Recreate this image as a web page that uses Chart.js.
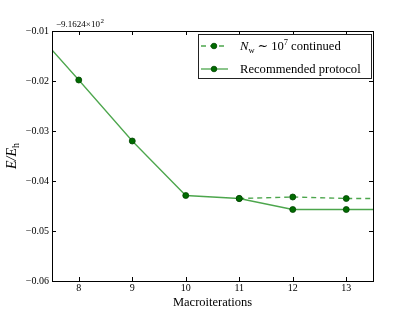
<!DOCTYPE html>
<html>
<head>
<meta charset="utf-8">
<script src="https://cdn.jsdelivr.net/npm/chart.js@4"></script>
<style>
  html, body { margin: 0; padding: 0; background: #fff; }
  #wrap { width: 415px; height: 312px; }
</style>
</head>
<body>
<div id="wrap"><canvas id="chart"></canvas></div>
<script>
// energies relative to offset -9.1624e2 (Eh)
const iterations = [7.5, 8, 9, 10, 11, 12, 13, 13.5];
const recommended = [-0.0138, -0.0198, -0.0320, -0.0429, -0.0435, -0.0457, -0.0457, -0.0457];
const continuedIters = [11, 12, 13, 13.5];
const continued = [-0.0435, -0.0432, -0.0435, -0.0435];
const xTicks = [8, 9, 10, 11, 12, 13];
const yTicks = [-0.06, -0.05, -0.04, -0.03, -0.02, -0.01];
const offsetLabel = ['−9.1624×10', '2'];

const SERIF = '"Liberation Serif", "DejaVu Serif", serif';
const LINE = 'rgba(0, 128, 0, 0.7)';
const MARK = '#006b00';
const MARK_EDGE = '#004400';

const pts = (xs, ys) => xs.map((x, i) => ({ x: x, y: ys[i] }));
const markerRadius = c => (Number.isInteger(c.raw && c.raw.x) ? 3 : 0);

// frame, inward ticks, offset text, y label and legend, matplotlib-like
const decor = {
  id: 'decor',
  afterDraw(chart) {
    const { ctx, chartArea: a, scales } = chart;
    ctx.save();
    ctx.strokeStyle = '#000';
    ctx.lineWidth = 1;
    ctx.strokeRect(Math.round(a.left) + 0.5, Math.round(a.top) + 0.5,
      Math.round(a.right - a.left), Math.round(a.bottom - a.top));

    ctx.beginPath();
    xTicks.forEach(v => {
      const x = Math.round(scales.x.getPixelForValue(v)) + 0.5;
      ctx.moveTo(x, a.bottom); ctx.lineTo(x, a.bottom - 4);
      ctx.moveTo(x, a.top); ctx.lineTo(x, a.top + 4);
    });
    yTicks.forEach(v => {
      const y = Math.round(scales.y.getPixelForValue(v)) + 0.5;
      ctx.moveTo(a.left, y); ctx.lineTo(a.left + 4, y);
      ctx.moveTo(a.right, y); ctx.lineTo(a.right - 4, y);
    });
    ctx.stroke();

    // offset text
    ctx.fillStyle = '#000';
    ctx.textBaseline = 'alphabetic';
    ctx.font = '9px ' + SERIF;
    ctx.fillText(offsetLabel[0], a.left + 4, a.top - 4);
    const w0 = ctx.measureText(offsetLabel[0]).width;
    ctx.font = '7px ' + SERIF;
    ctx.fillText(offsetLabel[1], a.left + 4 + w0 + 0.5, a.top - 8);

    // y label E/E_h
    ctx.save();
    ctx.translate(12, (a.top + a.bottom) / 2);
    ctx.rotate(-Math.PI / 2);
    ctx.font = 'italic 14px ' + SERIF;
    const p1 = 'E/E';
    const w1 = ctx.measureText(p1).width;
    ctx.font = '10px ' + SERIF;
    const wh = ctx.measureText('h').width;
    let sx = -(w1 + wh) / 2;
    ctx.font = 'italic 14px ' + SERIF;
    ctx.fillText(p1, sx, 4);
    ctx.font = '10px ' + SERIF;
    ctx.fillText('h', sx + w1, 7);
    ctx.restore();

    // legend
    const lx = 198, ly = 34, lw = a.right - 2 - lx, lh = 44;
    ctx.fillStyle = '#fff';
    ctx.fillRect(lx, ly, lw, lh);
    ctx.strokeStyle = '#222';
    ctx.strokeRect(lx + 0.5, ly + 0.5, lw, lh);
    const rows = [ly + 12, ly + 35];
    rows.forEach((y, i) => {
      ctx.strokeStyle = LINE;
      ctx.lineWidth = 1.3;
      ctx.setLineDash(i === 0 ? [5, 4] : []);
      ctx.beginPath(); ctx.moveTo(lx + 3, y); ctx.lineTo(lx + 30, y); ctx.stroke();
      ctx.setLineDash([]);
      ctx.fillStyle = MARK; ctx.strokeStyle = MARK_EDGE; ctx.lineWidth = 0.8;
      ctx.beginPath(); ctx.arc(lx + 16, y, 2.8, 0, Math.PI * 2); ctx.fill(); ctx.stroke();
    });
    ctx.fillStyle = '#000';
    const fs = '12.6px ';
    let tx = lx + 42, ty = rows[0] + 4;
    ctx.font = 'italic ' + fs + SERIF;
    ctx.fillText('N', tx, ty); tx += ctx.measureText('N').width;
    ctx.font = '8.5px ' + SERIF;
    ctx.fillText('w', tx, ty + 3); tx += ctx.measureText('w').width + 3;
    ctx.font = fs + SERIF;
    ctx.fillText('∼ 10', tx, ty); tx += ctx.measureText('∼ 10').width;
    ctx.font = '8.5px ' + SERIF;
    ctx.fillText('7', tx, ty - 5); tx += ctx.measureText('7').width + 3;
    ctx.font = fs + SERIF;
    ctx.fillText('continued', tx, ty);
    ctx.fillText('Recommended protocol', lx + 42, rows[1] + 4);
    ctx.restore();
  }
};

new Chart(document.getElementById('chart'), {
  type: 'line',
  data: {
    datasets: [
      {
        label: 'Nw ~ 10^7 continued',
        data: pts(continuedIters, continued),
        borderColor: LINE,
        borderWidth: 1.3,
        borderDash: [5, 4],
        pointRadius: markerRadius,
        pointBackgroundColor: MARK,
        pointBorderColor: MARK_EDGE,
        pointBorderWidth: 0.8
      },
      {
        label: 'Recommended protocol',
        data: pts(iterations, recommended),
        borderColor: LINE,
        borderWidth: 1.3,
        pointRadius: markerRadius,
        pointBackgroundColor: MARK,
        pointBorderColor: MARK_EDGE,
        pointBorderWidth: 0.8
      }
    ]
  },
  options: {
    responsive: true,
    maintainAspectRatio: false,
    animation: false,
    layout: { padding: { top: 31, right: 42, left: 0, bottom: 0 } },
    plugins: { legend: { display: false }, tooltip: { enabled: false } },
    scales: {
      x: {
        type: 'linear',
        min: 7.5,
        max: 13.5,
        afterBuildTicks: s => { s.ticks = xTicks.map(v => ({ value: v })); },
        afterFit: s => { s.height = 31; },
        grid: { display: false, drawTicks: false },
        border: { display: false },
        ticks: { color: '#000', padding: 1, font: { family: SERIF, size: 10 } },
        title: {
          display: true,
          text: 'Macroiterations',
          color: '#000',
          padding: { top: 0, bottom: 2 },
          font: { family: SERIF, size: 12.5 }
        }
      },
      y: {
        min: -0.06,
        max: -0.01,
        afterBuildTicks: s => { s.ticks = yTicks.map(v => ({ value: v })); },
        afterFit: s => { s.width = 52; },
        grid: { display: false, drawTicks: false },
        border: { display: false },
        ticks: {
          color: '#000',
          padding: 3,
          font: { family: SERIF, size: 10 },
          callback: v => (v < 0 ? '−' : '') + Math.abs(v).toFixed(2)
        }
      }
    }
  },
  plugins: [decor]
});
</script>
</body>
</html>
